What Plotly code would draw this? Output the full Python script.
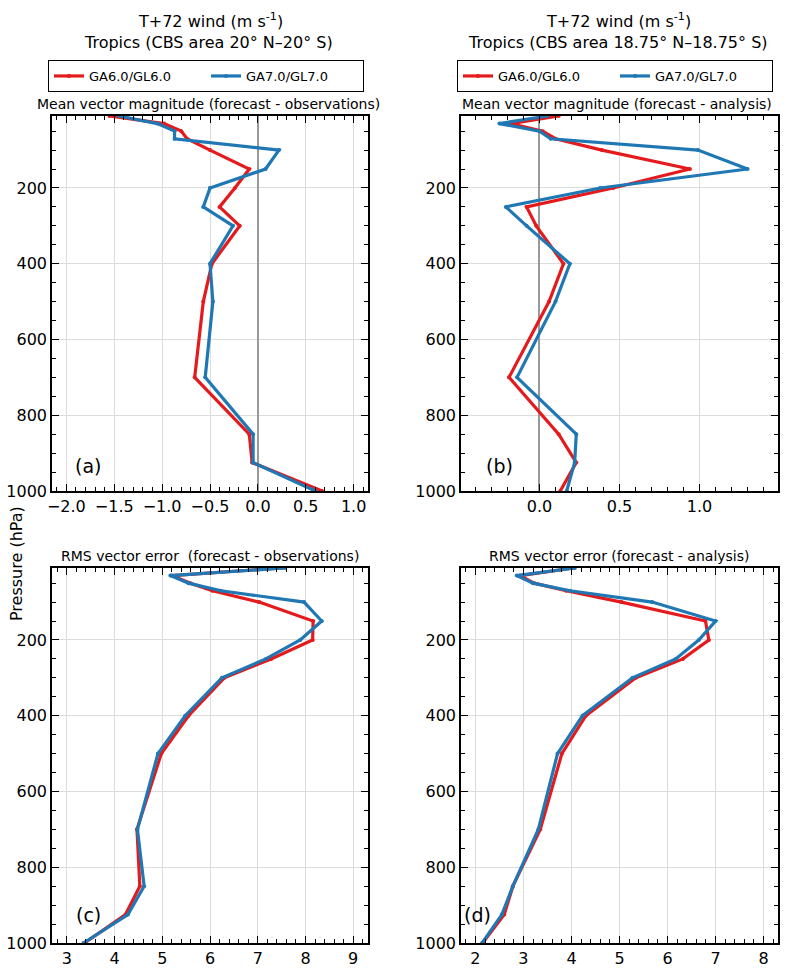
import plotly.graph_objects as go

# pressure levels (hPa)
levels = [10, 30, 50, 70, 100, 150, 200, 250, 300, 400, 500, 700, 850, 925, 1000]

# (a) mean vector magnitude, forecast - observations
a_ga6 = [-1.55, -0.98, -0.80, -0.74, -0.50, -0.09, -0.24, -0.40, -0.19, -0.48, -0.57, -0.66, -0.09, -0.06, 0.67]
a_ga7 = [-1.45, -1.05, -0.87, -0.87, 0.22, 0.08, -0.50, -0.57, -0.26, -0.50, -0.47, -0.55, -0.05, -0.05, 0.60]
# (b) mean vector magnitude, forecast - analysis
b_ga6 = [0.12, -0.18, 0.02, 0.10, 0.39, 0.94, 0.46, -0.08, -0.02, 0.15, 0.06, -0.19, 0.12, 0.23, 0.13]
b_ga7 = [0.05, -0.25, 0.00, 0.07, 0.99, 1.30, 0.38, -0.21, -0.08, 0.19, 0.10, -0.14, 0.23, 0.22, 0.17]
# (c) RMS vector error, forecast - observations
c_ga6 = [7.50, 5.20, 5.59, 6.05, 7.03, 8.16, 8.15, 7.28, 6.30, 5.55, 4.98, 4.47, 4.53, 4.23, 3.37]
c_ga7 = [7.57, 5.17, 5.55, 6.23, 7.97, 8.34, 7.89, 7.17, 6.25, 5.48, 4.91, 4.48, 4.62, 4.28, 3.35]
# (d) RMS vector error, forecast - analysis
d_ga6 = [4.05, 2.93, 3.22, 3.89, 5.04, 6.79, 6.86, 6.32, 5.34, 4.30, 3.80, 3.35, 2.78, 2.60, 2.15]
d_ga7 = [4.07, 2.86, 3.20, 3.97, 5.68, 7.00, 6.65, 6.17, 5.27, 4.23, 3.71, 3.31, 2.78, 2.55, 2.14]

names = ["GA6.0/GL6.0", "GA7.0/GL7.0"]
colors = ["#e41a1c", "#1f77b4"]

W, H = 787, 971
FONT = "DejaVu Sans"


def px_x(v):
    return v / W


def px_y(v):
    return 1 - v / H


fig = go.Figure()

panels = [
    ("", a_ga6, a_ga7, "legend"),
    ("2", b_ga6, b_ga7, "legend2"),
    ("3", c_ga6, c_ga7, "legend"),
    ("4", d_ga6, d_ga7, "legend2"),
]
for i, (ax, s6, s7, leg) in enumerate(panels):
    for j, series in enumerate([s6, s7]):
        fig.add_trace(go.Scatter(
            x=series, y=levels, mode="lines+markers",
            name=names[j],
            line=dict(color=colors[j], width=3.2),
            marker=dict(color=colors[j], size=4),
            xaxis="x" + ax, yaxis="y" + ax,
            legend=leg,
            showlegend=(i < 2),
        ))

xdom_l = [px_x(52), px_x(368)]
xdom_r = [px_x(461), px_x(778)]
ydom_t = [px_y(491), px_y(116)]
ydom_b = [px_y(943), px_y(568)]

common = dict(
    showline=True, linecolor="black", linewidth=1.5, mirror="allticks",
    ticks="inside", ticklen=7, tickcolor="black",
    showgrid=True, gridcolor="#dcdcdc", gridwidth=1,
    tickfont=dict(family=FONT, size=16, color="black"),
    automargin=False,
)


def xax(dom, anchor, rng, dtick, mdtick, zero, fmt):
    return dict(common, domain=dom, anchor=anchor, range=rng, dtick=dtick, tick0=0,
                tickformat=fmt,
                minor=dict(dtick=mdtick, ticks="inside", ticklen=4, tickcolor="black", showgrid=False),
                zeroline=zero, zerolinecolor="#999999", zerolinewidth=1.5)


def yax(dom, anchor):
    return dict(common, domain=dom, anchor=anchor, range=[1000, 10], dtick=200, tick0=0,
                minor=dict(dtick=50, ticks="inside", ticklen=4, tickcolor="black", showgrid=False),
                zeroline=False)


fig.update_layout(
    xaxis=xax(xdom_l, "y", [-2.15, 1.15], 0.5, 0.1, True, ".1f"),
    yaxis=yax(ydom_t, "x"),
    xaxis2=xax(xdom_r, "y2", [-0.49, 1.49], 0.5, 0.1, True, ".1f"),
    yaxis2=yax(ydom_t, "x2"),
    xaxis3=xax(xdom_l, "y3", [2.69, 9.31], 1, 0.2, False, "d"),
    yaxis3=yax(ydom_b, "x3"),
    xaxis4=xax(xdom_r, "y4", [1.7, 8.3], 1, 0.2, False, "d"),
    yaxis4=yax(ydom_b, "x4"),
)

leg_common = dict(
    orientation="h", xanchor="left", yanchor="top",
    bordercolor="black", borderwidth=1, bgcolor="white",
    font=dict(family=FONT, size=13, color="black"),
    entrywidth=112, itemwidth=30,
)
fig.update_layout(
    legend=dict(leg_common, x=px_x(48), y=px_y(60)),
    legend2=dict(leg_common, x=px_x(457), y=px_y(60)),
)

annotations = []


def text(x, y, s, size, **kw):
    annotations.append(dict(
        x=px_x(x), y=px_y(y), xref="paper", yref="paper", text=s, showarrow=False,
        xanchor="center", yanchor="middle",
        font=dict(family=FONT, size=size, color="black"), **kw))


text(210, 20, "T+72 wind (m s<sup>-1</sup>)", 16)
text(208, 42, "Tropics (CBS area 20° N–20° S)", 16)
text(618, 20, "T+72 wind (m s<sup>-1</sup>)", 16)
text(618, 42, "Tropics (CBS area 18.75° N–18.75° S)", 16)

text(209, 104, "Mean vector magnitude (forecast - observations)", 14)
text(617, 104, "Mean vector magnitude (forecast - analysis)", 14)
text(210, 556, "RMS vector error  (forecast - observations)", 14)
text(619, 556, "RMS vector error (forecast - analysis)", 14)

text(88, 466, "(a)", 19)
text(499, 466, "(b)", 19)
text(88, 915, "(c)", 19)
text(477, 915, "(d)", 19)

text(16, 564, "Pressure (hPa)", 16, textangle=-90)

fig.update_layout(
    annotations=annotations,
    width=W, height=H,
    margin=dict(l=0, r=0, t=0, b=0),
    paper_bgcolor="white", plot_bgcolor="white",
    font=dict(family=FONT, color="black"),
)

# drop the browser's default body margin so the figure fills the window
fig.write_html("out.html", config={"displayModeBar": False},
               post_script="document.body.style.margin='0';")
